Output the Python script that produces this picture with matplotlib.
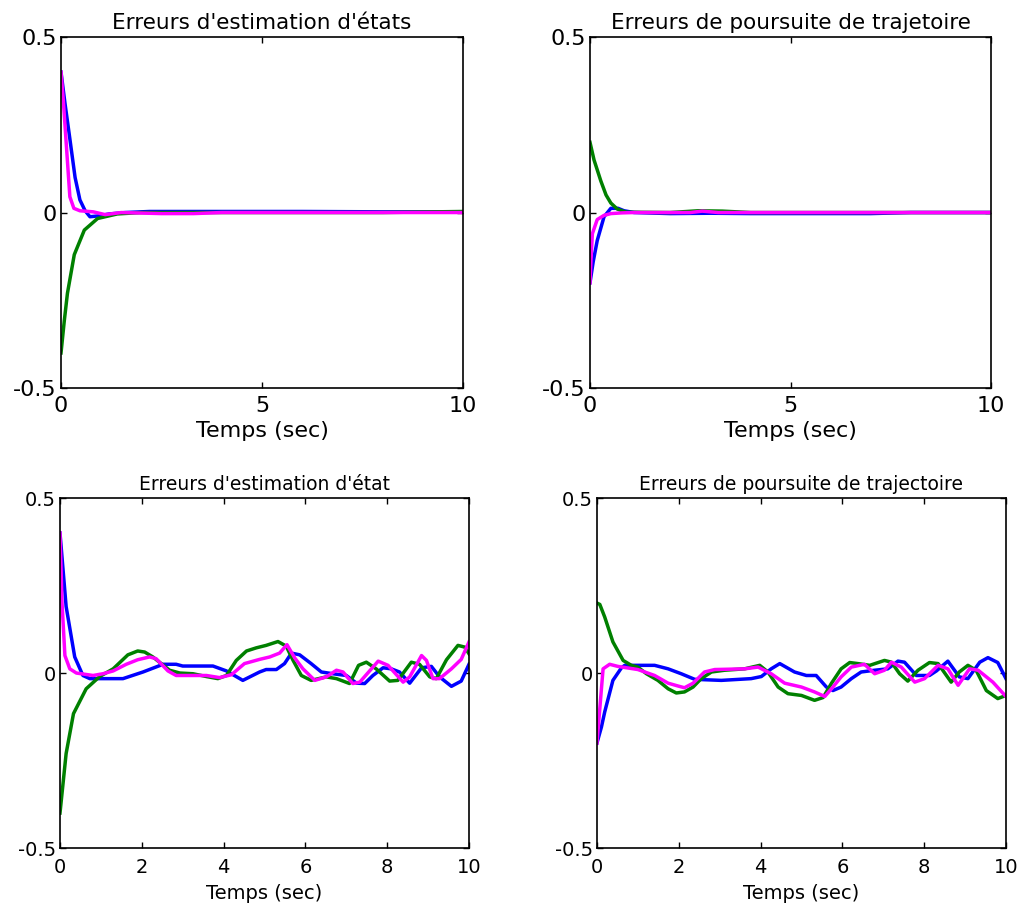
import matplotlib
matplotlib.use("Agg")
import matplotlib.pyplot as plt

plt.rcParams['font.family'] = ['DejaVu Sans']

# --- Erreurs d'estimation d'états (haut gauche)
t_tl_b = [0, 0.1, 0.22, 0.35, 0.47, 0.6, 0.72, 0.9, 1.2, 1.6, 2.2, 4, 6, 8, 10]
y_tl_b = [0.40, 0.31, 0.21, 0.10, 0.036, 0.005, -0.012, -0.01, -0.004, 0.0, 0.003, 0.003, 0.003, 0.002, 0.002]
t_tl_g = [0, 0.08, 0.16, 0.33, 0.58, 0.91, 1.4, 2, 4, 6, 8, 10]
y_tl_g = [-0.40, -0.31, -0.23, -0.12, -0.05, -0.017, -0.004, 0.0, 0.0, 0.0, 0.0, 0.003]
t_tl_m = [0, 0.05, 0.11, 0.22, 0.32, 0.47, 0.8, 1.1, 1.5, 2.5, 3.3, 4, 6, 8, 10]
y_tl_m = [0.40, 0.33, 0.23, 0.045, 0.012, 0.005, 0.002, -0.006, 0.0, -0.003, -0.003, 0.0, 0.0, 0.0, 0.0]

# --- Erreurs de poursuite de trajetoire (haut droite)
t_tr_b = [0, 0.08, 0.18, 0.35, 0.52, 0.7, 0.85, 1.1, 2, 3, 4, 7, 8, 10]
y_tr_b = [-0.20, -0.14, -0.08, -0.012, 0.012, 0.012, 0.005, 0.0, -0.003, -0.002, -0.003, -0.003, 0.0, 0.0]
t_tr_g = [0, 0.1, 0.27, 0.4, 0.52, 0.68, 0.9, 2, 2.7, 3.3, 4, 10]
y_tr_g = [0.20, 0.15, 0.09, 0.05, 0.027, 0.01, 0.001, 0.0, 0.005, 0.004, 0.0, 0.0]
t_tr_m = [0, 0.03, 0.06, 0.18, 0.35, 0.52, 0.8, 1.1, 2.5, 2.8, 3.2, 10]
y_tr_m = [-0.20, -0.12, -0.06, -0.02, -0.008, -0.003, -0.001, 0.0, 0.0, 0.004, 0.0, 0.0]

# --- Erreurs d'estimation d'état (bas gauche)
t_bl_b = [0, 0.15, 0.36, 0.56, 0.73, 0.97, 1.54, 2.03, 2.52, 2.84, 3.0, 3.74, 4.07, 4.47,
          4.88, 5.04, 5.29, 5.49, 5.66, 5.86, 6.14, 6.39, 6.67, 7.0, 7.25, 7.45, 7.65,
          7.9, 8.1, 8.3, 8.55, 8.84, 9.08, 9.28, 9.57, 9.81, 10.0]
y_bl_b = [0.40, 0.19, 0.046, -0.007, -0.016, -0.016, -0.016, 0.003, 0.025, 0.025, 0.02, 0.02,
          0.006, -0.021, 0.003, 0.01, 0.01, 0.027, 0.057, 0.052, 0.027, 0.003, -0.002, -0.007,
          -0.029, -0.03, -0.007, 0.015, 0.012, 0.003, -0.029, 0.015, 0.019, -0.011, -0.038,
          -0.023, 0.025]
t_bl_g = [0, 0.15, 0.33, 0.64, 0.97, 1.3, 1.66, 1.9, 2.07, 2.27, 2.68, 2.93, 3.25, 3.58, 3.86,
          4.07, 4.31, 4.56, 4.8, 5.04, 5.33, 5.53, 5.7, 5.9, 6.14, 6.51, 6.76, 7.08, 7.3, 7.49,
          7.73, 8.06, 8.26, 8.59, 8.79, 9.04, 9.2, 9.45, 9.73, 9.9, 10.0]
y_bl_g = [-0.40, -0.23, -0.116, -0.045, -0.01, 0.012, 0.052, 0.063, 0.06, 0.046, 0.008, 0.0,
          -0.002, -0.01, -0.016, -0.007, 0.036, 0.063, 0.072, 0.079, 0.09, 0.077, 0.036, -0.007,
          -0.021, -0.011, -0.016, -0.03, 0.022, 0.031, 0.012, -0.023, -0.021, 0.031, 0.025,
          -0.011, -0.016, 0.038, 0.079, 0.074, 0.055]
t_bl_m = [0, 0.05, 0.12, 0.24, 0.4, 0.81, 1.05, 1.3, 1.62, 1.9, 2.19, 2.35, 2.64, 2.84, 3.58,
          3.9, 4.19, 4.51, 4.88, 5.13, 5.37, 5.55, 5.74, 5.94, 6.23, 6.51, 6.76, 6.92, 7.16,
          7.33, 7.78, 8.02, 8.39, 8.55, 8.84, 8.96, 9.12, 9.28, 9.57, 9.81, 10.0]
y_bl_m = [0.40, 0.20, 0.05, 0.012, 0.0, -0.007, -0.002, 0.006, 0.025, 0.038, 0.046, 0.041,
          0.006, -0.007, -0.007, -0.013, -0.005, 0.027, 0.039, 0.046, 0.057, 0.081, 0.043,
          0.012, -0.021, -0.011, 0.008, 0.003, -0.03, -0.026, 0.034, 0.022, -0.026, -0.011,
          0.05, 0.036, -0.016, -0.016, 0.012, 0.039, 0.089]

# --- Erreurs de poursuite de trajectoire (bas droite)
t_br_b = [0, 0.11, 0.19, 0.39, 0.6, 0.68, 1.41, 1.74, 2.06, 2.39, 3.04, 3.77, 4.02, 4.26, 4.47,
          4.83, 5.12, 5.36, 5.61, 5.77, 5.97, 6.22, 6.46, 6.79, 7.11, 7.36, 7.52, 7.81, 8.13,
          8.3, 8.58, 8.86, 9.07, 9.36, 9.56, 9.8, 10.0]
y_br_b = [-0.20, -0.154, -0.111, -0.021, 0.015, 0.022, 0.022, 0.012, -0.002, -0.018, -0.021,
          -0.016, -0.01, 0.012, 0.027, 0.003, -0.007, -0.007, -0.04, -0.05, -0.04, -0.016,
          0.003, 0.008, 0.012, 0.034, 0.031, -0.007, -0.007, 0.006, 0.034, -0.011, -0.016,
          0.031, 0.044, 0.03, -0.016]
t_br_g = [0, 0.07, 0.19, 0.39, 0.64, 0.84, 1.0, 1.21, 1.49, 1.74, 1.94, 2.14, 2.35, 2.55, 2.8,
          3.12, 3.61, 3.98, 4.18, 4.43, 4.67, 5.0, 5.32, 5.53, 5.73, 5.97, 6.18, 6.38, 6.67,
          7.03, 7.2, 7.4, 7.6, 7.85, 8.13, 8.34, 8.66, 8.86, 9.07, 9.27, 9.52, 9.8, 10.0]
y_br_g = [0.20, 0.196, 0.16, 0.089, 0.036, 0.022, 0.017, -0.002, -0.021, -0.045, -0.057,
          -0.054, -0.04, -0.016, 0.003, 0.008, 0.012, 0.022, 0.003, -0.04, -0.059, -0.064,
          -0.078, -0.07, -0.03, 0.012, 0.03, 0.027, 0.022, 0.036, 0.031, -0.002, -0.023,
          0.008, 0.03, 0.027, -0.026, 0.003, 0.022, 0.008, -0.05, -0.073, -0.064]
t_br_m = [0, 0.15, 0.31, 0.51, 1.0, 1.41, 1.74, 1.98, 2.14, 2.35, 2.63, 2.88, 3.61, 3.94, 4.26,
          4.59, 5.0, 5.32, 5.57, 5.77, 5.97, 6.22, 6.54, 6.79, 7.03, 7.2, 7.44, 7.77, 8.01,
          8.34, 8.58, 8.83, 9.11, 9.32, 9.68, 10.0]
y_br_m = [-0.20, 0.012, 0.025, 0.019, 0.01, -0.007, -0.029, -0.037, -0.042, -0.029, 0.003,
          0.01, 0.012, 0.017, -0.002, -0.029, -0.04, -0.054, -0.067, -0.04, -0.011, 0.017,
          0.025, -0.002, 0.008, 0.031, 0.017, -0.026, -0.016, 0.022, 0.012, -0.035, 0.012,
          0.008, -0.026, -0.067]

titles = ["Erreurs d'estimation d'états", "Erreurs de poursuite de trajetoire",
          "Erreurs d'estimation d'état", "Erreurs de poursuite de trajectoire"]
xticks_top = [0, 5, 10]
xticks_bottom = [0, 2, 4, 6, 8, 10]
yticks = [-0.5, 0, 0.5]

blue = '#0000ff'
green = '#008000'
magenta = '#ff00ff'

fig = plt.figure(figsize=(10.22, 9.10), dpi=100)
axes = [
    fig.add_axes([0.0597, 0.5736, 0.3933, 0.3857]),
    fig.add_axes([0.5773, 0.5736, 0.3924, 0.3857]),
    fig.add_axes([0.0587, 0.0681, 0.4002, 0.3846]),
    fig.add_axes([0.5841, 0.0681, 0.4002, 0.3846]),
]

panels = [
    (t_tl_b, y_tl_b, t_tl_g, y_tl_g, t_tl_m, y_tl_m),
    (t_tr_b, y_tr_b, t_tr_g, y_tr_g, t_tr_m, y_tr_m),
    (t_bl_b, y_bl_b, t_bl_g, y_bl_g, t_bl_m, y_bl_m),
    (t_br_b, y_br_b, t_br_g, y_br_g, t_br_m, y_br_m),
]

for i, ax in enumerate(axes):
    top_row = i < 2
    # the top row of the original figure has slightly larger text
    fs_tick = 16 if top_row else 14
    fs_title = 15.5 if top_row else 13.5
    tb, yb, tg, yg, tm, ym = panels[i]
    ax.plot(tb, yb, color=blue, lw=2.5)
    ax.plot(tg, yg, color=green, lw=2.5)
    ax.plot(tm, ym, color=magenta, lw=2.5)
    ax.set_xlim(0, 10)
    ax.set_ylim(-0.5, 0.5)
    ax.set_xticks(xticks_top if top_row else xticks_bottom)
    ax.set_yticks(yticks)
    ax.set_yticklabels(['-0.5', '0', '0.5'])
    ax.tick_params(direction='in', top=True, right=True, length=4, width=1,
                   labelsize=fs_tick, pad=3)
    ax.tick_params(axis='x', pad=6 if top_row else 7)
    for s in ax.spines.values():
        s.set_linewidth(1.2)
    ax.set_title(titles[i], fontsize=fs_title, pad=6)
    ax.set_xlabel('Temps (sec)', fontsize=fs_tick, labelpad=3 if top_row else 5)

fig.savefig('out.png', dpi=100)
